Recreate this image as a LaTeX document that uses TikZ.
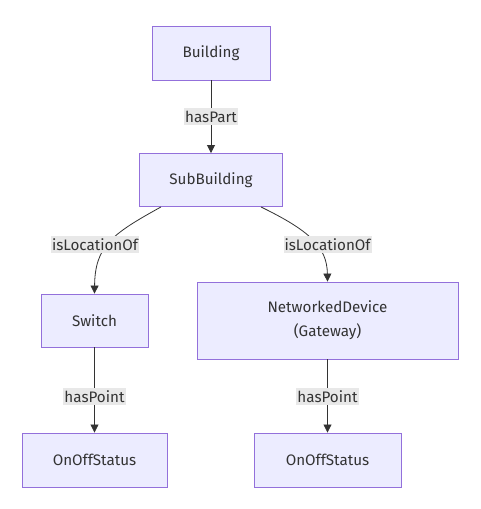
\documentclass[tikz,border=0pt]{standalone}
\usepackage{fontspec}
\setmainfont{Fira Sans}
\usetikzlibrary{positioning,arrows.meta,calc}
\definecolor{boxfill}{HTML}{ECECFF}
\definecolor{boxline}{HTML}{9370DB}
\definecolor{ink}{HTML}{333333}
\definecolor{lblfill}{HTML}{E8E8E8}

\tikzset{
    entity/.style={draw=boxline, fill=boxfill, line width=0.9pt, text=ink,
        font=\fontsize{15.2}{24}\selectfont, align=center, inner sep=0pt},
    rel/.style={draw=ink, line width=0.8pt, -{Triangle[length=8pt,width=8pt]}},
    lbl/.style={fill=lblfill, text=ink, font=\fontsize{15.2}{23}\selectfont,
        inner xsep=1pt, inner ysep=2.5pt}
}

\begin{document}
\begin{tikzpicture}[x=1pt, y=-1pt] % pixel grid, y down
\useasboundingbox (0,0) rectangle (481,509);

% Boxes
\node[entity, minimum width=118pt, minimum height=54pt] (building) at (211,53) {Building};
\node[entity, minimum width=143pt, minimum height=53pt] (subbuilding) at (211,180) {SubBuilding};
\node[entity, minimum width=107pt, minimum height=53pt] (switch) at (94.5,320.5) {Switch};
\node[entity, minimum width=261pt, minimum height=77pt] (gateway) at (327.5,320.5) {NetworkedDevice\\(Gateway)};
\node[entity, minimum width=145pt, minimum height=54pt] (statusA) at (94.5,460) {OnOffStatus};
\node[entity, minimum width=147pt, minimum height=54pt] (statusB) at (327.5,460) {OnOffStatus};

% Relations
\draw[rel] (building) -- (subbuilding);
\draw[rel] ([xshift=-50pt]subbuilding.south) .. controls (112,234) and (95,246) .. (switch.north);
\draw[rel] ([xshift=50pt]subbuilding.south) .. controls (308,230) and (327,246) .. (gateway.north);
\draw[rel] (switch) -- (statusA);
\draw[rel] (gateway) -- (statusB);

% Labels
\node[lbl] (lblPart) at (211,116.5) {hasPart};
\node[lbl] (lblLocA) at (95,244.5) {isLocationOf};
\node[lbl] (lblLocB) at (327.5,244.5) {isLocationOf};
\node[lbl] (lblPointA) at (94.5,396.5) {hasPoint};
\node[lbl] (lblPointB) at (327.5,396.5) {hasPoint};
\end{tikzpicture}
\end{document}
